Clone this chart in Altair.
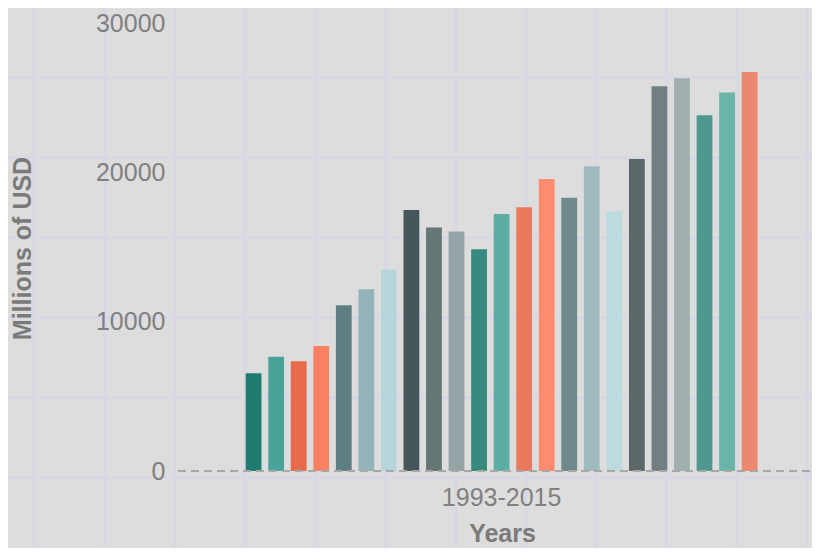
import altair as alt
import pandas as pd

# ---- data ----
period = "1993-2015"
years = ["1993", "1994", "1995", "1996", "1997", "1998", "1999", "2000",
         "2001", "2002", "2003", "2004", "2005", "2006", "2007", "2008",
         "2009", "2010", "2011", "2012", "2013", "2014", "2015"]
values = [6550, 7650, 7350, 8370, 11100, 12170, 13500, 17480, 16300, 16030,
          14850, 17210, 17660, 19560, 18300, 20400, 17390, 20900, 25770,
          26300, 23820, 25340, 26720]
colors = ["#1f7c70", "#4aa398", "#e66a4b", "#fa8062", "#5f7e83", "#93b3b9",
          "#b7d6dc", "#46575c", "#667576", "#94a3a5", "#388a7e", "#5cada4",
          "#e97a5e", "#fd8b6f", "#6f898c", "#9fbbc0", "#bddadf", "#5a6869",
          "#717f82", "#a1aeae", "#4f988f", "#6cb3aa", "#ec886f"]
y_ticks = [0, 10000, 20000, 30000]

df = pd.DataFrame({"period": period, "year": years, "value": values})

# ---- layout ----
W, H = 634, 448
PL, PT, PR, PB = 170, 15, 0, 77
BG = "#dddddd"
GRID = "#d8d7e4"
TXT = "#808080"
FONT = "Liberation Sans"

# decorative page-background grid (plot-relative pixels)
ox, oy = 8 + PL, 8 + PT
vgrid_px = [34.25 + 70.25 * k - ox for k in range(12)]
hgrid_px = [77.5 + 80 * k - oy for k in range(7)]

vgrid = alt.Chart(pd.DataFrame({"gx": vgrid_px})).mark_rule(
    color=GRID, strokeWidth=3
).encode(
    x=alt.X("gx:Q", scale=None, axis=None),
    y=alt.value(-PT - 10),
    y2=alt.value(H + PB + 10),
)
hgrid = alt.Chart(pd.DataFrame({"gy": hgrid_px})).mark_rule(
    color=GRID, strokeWidth=3
).encode(
    y=alt.Y("gy:Q", scale=None, axis=None),
    x=alt.value(-PL - 10),
    x2=alt.value(W + PR + 10),
)
grid = alt.layer(vgrid, hgrid)

bars = alt.Chart(df).mark_bar().encode(
    x=alt.X(
        "period:N",
        scale=alt.Scale(range=[67.7, 579.5], paddingInner=0, paddingOuter=0),
        axis=alt.Axis(
            title="Years", domain=False, ticks=False, grid=False, zindex=1,
            labelFontSize=25, labelColor=TXT, labelFont=FONT, labelPadding=14,
            labelAngle=0,
            titleFontSize=25, titleFontWeight="bold", titleColor="#7a7a7a",
            titleFont=FONT, titlePadding=11, titleX=324,
        ),
    ),
    xOffset=alt.XOffset(
        "year:N", scale=alt.Scale(domain=years, paddingInner=0.3, paddingOuter=0)
    ),
    y=alt.Y(
        "value:Q",
        scale=alt.Scale(domain=[0, 30000], nice=False, zero=True),
        axis=alt.Axis(
            title="Millions of USD", values=y_ticks, format="d",
            domain=False, ticks=False, grid=False, zindex=1,
            labelFontSize=25, labelColor=TXT, labelFont=FONT, labelPadding=13,
            titleFontSize=25, titleFontWeight="bold", titleColor="#7a7a7a",
            titleFont=FONT, titleX=-156, titleY=H / 2 + 1, titleBaseline="middle",
            titleAngle=-90,
        ),
    ),
    color=alt.Color("year:N", scale=alt.Scale(domain=years, range=colors), legend=None),
)

zero = alt.Chart(df).mark_rule(
    strokeDash=[8, 5], color="#a8a8a8", strokeWidth=2
).encode(
    y=alt.datum(0),
    x=alt.value(0),
    x2=alt.value(W + 10),
)

main = alt.layer(bars, zero)

chart = alt.layer(grid, main).resolve_scale(
    x="independent", y="independent"
).properties(
    width=W, height=H,
    autosize=alt.AutoSizeParams(type="none"),
    padding={"left": PL, "top": PT, "right": PR, "bottom": PB},
    background=BG,
).configure_view(stroke=None)

chart.save("out.html", embed_options={"renderer": "svg", "actions": False})
